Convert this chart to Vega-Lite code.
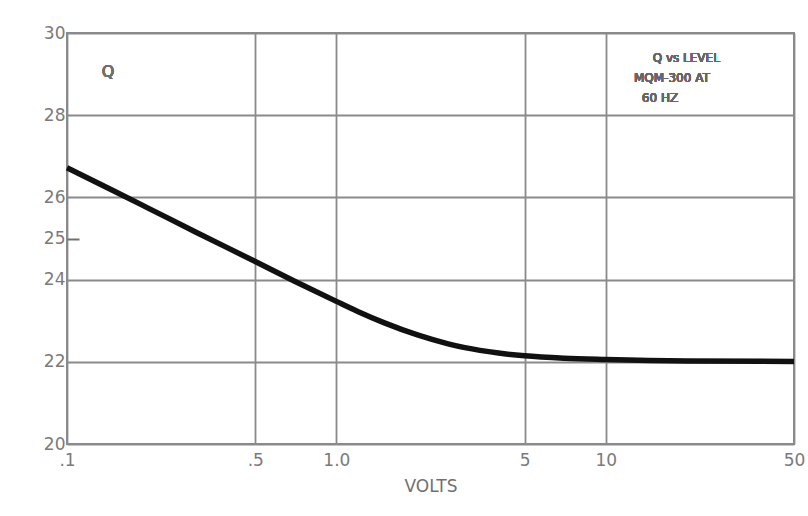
{
  "$schema": "https://vega.github.io/schema/vega-lite/v6.json",
  "autosize": "none",
  "width": 727,
  "height": 411,
  "padding": {"left": 67, "top": 33, "right": 14, "bottom": 72},
  "background": "white",
  "config": {
    "view": {"stroke": "#8a8a8a", "strokeWidth": 2},
    "font": "DejaVu Sans"
  },
  "data": {
    "values": [
      {"volts": 0.1, "q": 26.72},
      {"volts": 0.15, "q": 26.15},
      {"volts": 0.2, "q": 25.74},
      {"volts": 0.3, "q": 25.16},
      {"volts": 0.5, "q": 24.44},
      {"volts": 0.7, "q": 23.96},
      {"volts": 1.0, "q": 23.47},
      {"volts": 1.2, "q": 23.225},
      {"volts": 1.5, "q": 22.954},
      {"volts": 2.0, "q": 22.654},
      {"volts": 2.6, "q": 22.437},
      {"volts": 3.0, "q": 22.344},
      {"volts": 4.0, "q": 22.213},
      {"volts": 5.0, "q": 22.145},
      {"volts": 7.0, "q": 22.087},
      {"volts": 10, "q": 22.056},
      {"volts": 20, "q": 22.02},
      {"volts": 50, "q": 22.01}
    ]
  },
  "layer": [
    {
      "mark": {"type": "line", "color": "#111111", "strokeWidth": 5.5, "interpolate": "monotone"},
      "encoding": {
        "x": {
          "field": "volts", "type": "quantitative",
          "scale": {"type": "log", "domain": [0.1, 50], "nice": false},
          "axis": {
            "values": [0.1, 0.5, 1, 5, 10, 50],
            "labelExpr": "datum.value == 0.1 ? '.1' : datum.value == 0.5 ? '.5' : datum.value == 1 ? '1.0' : datum.label",
            "title": "VOLTS",
            "titleFont": "DejaVu Sans",
            "titleFontSize": 17,
            "titleFontWeight": "normal",
            "titleColor": "#707070",
            "titlePadding": 10,
            "labelFontSize": 17,
            "labelColor": "#7a7a7a",
            "labelPadding": 8,
            "labelFlush": false,
            "labelOverlap": false,
            "ticks": false,
            "domain": false,
            "grid": true,
            "gridColor": "#8a8a8a",
            "gridWidth": 1.8
          }
        },
        "y": {
          "field": "q", "type": "quantitative",
          "scale": {"domain": [20, 30], "nice": false, "zero": false},
          "axis": {
            "values": [20, 22, 24, 25, 26, 28, 30],
            "title": null,
            "labelFontSize": 17,
            "labelColor": "#7a7a7a",
            "labelPadding": 14,
            "domain": false,
            "ticks": true,
            "tickSize": -12,
            "tickColor": "#707070",
            "tickWidth": 2,
            "tickOpacity": {"condition": {"test": "datum.value == 25", "value": 1}, "value": 0},
            "grid": true,
            "gridColor": "#8a8a8a",
            "gridWidth": 1.8,
            "gridOpacity": {"condition": {"test": "datum.value == 25", "value": 0}, "value": 1}
          }
        }
      }
    },
    {
      "mark": {"type": "text", "fontSize": 16, "color": "#707070", "align": "center", "baseline": "middle"},
      "encoding": {
        "x": {"datum": 0.142, "type": "quantitative"},
        "y": {"datum": 29.05, "type": "quantitative"},
        "text": {"value": "Q"}
      }
    },
    {
      "mark": {"type": "text", "fontSize": 12, "color": "#666666", "align": "center", "baseline": "middle"},
      "encoding": {
        "x": {"datum": 19.9, "type": "quantitative"},
        "y": {"datum": 29.39, "type": "quantitative"},
        "text": {"value": "Q vs LEVEL"}
      }
    },
    {
      "mark": {"type": "text", "fontSize": 12, "color": "#666666", "align": "center", "baseline": "middle"},
      "encoding": {
        "x": {"datum": 17.6, "type": "quantitative"},
        "y": {"datum": 28.9, "type": "quantitative"},
        "text": {"value": "MQM-300 AT"}
      }
    },
    {
      "mark": {"type": "text", "fontSize": 12, "color": "#666666", "align": "center", "baseline": "middle"},
      "encoding": {
        "x": {"datum": 15.9, "type": "quantitative"},
        "y": {"datum": 28.42, "type": "quantitative"},
        "text": {"value": "60 HZ"}
      }
    }
  ]
}
